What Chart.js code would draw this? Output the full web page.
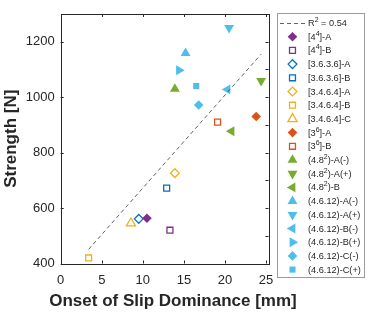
<!DOCTYPE html>
<html>
<head>
<meta charset="utf-8">
<script src="https://cdn.jsdelivr.net/npm/chart.js@4/dist/chart.umd.min.js"></script>
<style>
  html, body { margin: 0; padding: 0; background: #fff; }
  #wrap { width: 374px; height: 312px; position: relative; }
</style>
</head>
<body>
<div id="wrap"><canvas id="slipChart" width="374" height="312"></canvas></div>
<script>
// series labels, one point per series
const seriesLabels = [
    '[4\u2074]-A', '[4\u2074]-B',
    '[3.6.3.6]-A', '[3.6.3.6]-B',
    '[3.4.6.4]-A', '[3.4.6.4]-B', '[3.4.6.4]-C',
    '[3\u2076]-A', '[3\u2076]-B',
    '(4.8\u00b2)-A(-)', '(4.8\u00b2)-A(+)', '(4.8\u00b2)-B',
    '(4.6.12)-A(-)', '(4.6.12)-A(+)', '(4.6.12)-B(-)', '(4.6.12)-B(+)',
    '(4.6.12)-C(-)', '(4.6.12)-C(+)'
];
const onsetMm = [10.5, 13.3, 9.5, 12.9, 13.9, 3.4, 8.55, 23.8, 19.1,
                 13.9, 24.4, 20.8, 15.2, 20.5, 20.3, 14.4, 16.8, 16.5];
const strengthN = [563, 520, 561, 672, 726, 420, 545, 930, 910,
                   1030, 1059, 877, 1159, 1250, 1028, 1097, 972, 1040];

// linear fit (dashed)
const trendLabel = 'R\u00b2 = 0.54';
const trendX = [3.4, 24.4];
const trendY = [451, 1155];

const xTickStep = 5;
const yTickStep = 200;
const xTitle = 'Onset of Slip Dominance [mm]';
const yTitle = 'Strength [N]';

// marker styles (matlab default colours)
const PURPLE = '#7E2F8E', BLUE = '#0072BD', YELLOW = '#EDB120',
      RED = '#D95319', GREEN = '#77AC30', CYAN = '#4DBEEE';
const markerStyles = [
    { color: PURPLE, shape: 'rectRot', rot: 0, filled: true, r: 4.8 },
    { color: PURPLE, shape: 'rect', rot: 0, filled: false, r: 4.2 },
    { color: BLUE, shape: 'rectRot', rot: 0, filled: false, r: 4.4 },
    { color: BLUE, shape: 'rect', rot: 0, filled: false, r: 4.2 },
    { color: YELLOW, shape: 'rectRot', rot: 0, filled: false, r: 4.4 },
    { color: YELLOW, shape: 'rect', rot: 0, filled: false, r: 4.2 },
    { color: YELLOW, shape: 'triangle', rot: 0, filled: false, r: 5.3 },
    { color: RED, shape: 'rectRot', rot: 0, filled: true, r: 4.8 },
    { color: RED, shape: 'rect', rot: 0, filled: false, r: 4.2 },
    { color: GREEN, shape: 'triangle', rot: 0, filled: true, r: 5.7 },
    { color: GREEN, shape: 'triangle', rot: 180, filled: true, r: 5.7 },
    { color: GREEN, shape: 'triangle', rot: 270, filled: true, r: 5.7 },
    { color: CYAN, shape: 'triangle', rot: 0, filled: true, r: 5.7 },
    { color: CYAN, shape: 'triangle', rot: 180, filled: true, r: 5.7 },
    { color: CYAN, shape: 'triangle', rot: 270, filled: true, r: 5.7 },
    { color: CYAN, shape: 'triangle', rot: 90, filled: true, r: 5.7 },
    { color: CYAN, shape: 'rectRot', rot: 0, filled: true, r: 4.8 },
    { color: CYAN, shape: 'rect', rot: 0, filled: true, r: 4.3 }
];

const AXIS_COLOR = '#262626';
const FONT = 'Arial, "Liberation Sans", Helvetica, sans-serif';

const datasets = [{
    label: trendLabel,
    data: trendX.map((x, i) => ({ x: x, y: trendY[i] })),
    showLine: true,
    borderColor: '#505050',
    borderWidth: 0.9,
    borderDash: [4, 3],
    pointRadius: 0,
    fill: false
}];
seriesLabels.forEach((lbl, i) => {
    const s = markerStyles[i];
    datasets.push({
        label: lbl,
        data: [{ x: onsetMm[i], y: strengthN[i] }],
        pointStyle: s.shape,
        rotation: s.rot,
        pointRadius: s.r,
        borderColor: s.color,
        backgroundColor: s.filled ? s.color : 'rgba(0,0,0,0)',
        borderWidth: s.filled ? 0 : 1.3
    });
});

// box around the axes with inward ticks on all four sides
const frameTicks = {
    id: 'frameTicks',
    afterDatasetsDraw(chart) {
        const { ctx, chartArea: a, scales } = chart;
        const xs = scales.x, ys = scales.y;
        const len = 3;
        ctx.save();
        ctx.strokeStyle = AXIS_COLOR;
        ctx.lineWidth = 1;
        ctx.strokeRect(Math.round(a.left) + 0.5, Math.round(a.top) + 0.5,
            Math.round(a.right - a.left), Math.round(a.bottom - a.top));
        ctx.beginPath();
        for (let v = xs.min; v <= xs.max + 1e-9; v += xTickStep) {
            const px = Math.round(xs.getPixelForValue(v)) + 0.5;
            ctx.moveTo(px, a.bottom); ctx.lineTo(px, a.bottom - len);
            ctx.moveTo(px, a.top); ctx.lineTo(px, a.top + len);
        }
        for (let v = ys.min; v <= ys.max + 1e-9; v += yTickStep) {
            const py = Math.round(ys.getPixelForValue(v)) + 0.5;
            ctx.moveTo(a.left, py); ctx.lineTo(a.left + len, py);
        }
        for (let v = ys.min; v <= ys.max + 1e-9; v += yTickStep / 2) {
            const py = Math.round(ys.getPixelForValue(v)) + 0.5;
            ctx.moveTo(a.right, py); ctx.lineTo(a.right - len, py);
        }
        ctx.stroke();

        // x title drawn here, chart.js squeezes it to the axis width
        ctx.fillStyle = AXIS_COLOR;
        ctx.font = 'bold 17px ' + FONT;
        ctx.textAlign = 'center';
        ctx.textBaseline = 'middle';
        ctx.fillText(xTitle, 173, 301);
        ctx.restore();
    }
};

// unicode superscripts get drawn as small raised digits
const SUP = { '\u00b2': '2', '\u2074': '4', '\u2076': '6' };
function drawSupText(ctx, text, x, y) {
    let cx = x;
    for (const ch of text) {
        if (SUP[ch]) {
            ctx.font = '7px ' + FONT;
            ctx.fillText(SUP[ch], cx, y - 3.5);
            cx += ctx.measureText(SUP[ch]).width;
        } else {
            ctx.font = '9.2px ' + FONT;
            ctx.fillText(ch, cx, y);
            cx += ctx.measureText(ch).width;
        }
    }
}

// matlab-ish legend box on the right
const boxLegend = {
    id: 'boxLegend',
    afterDraw(chart) {
        const ctx = chart.ctx;
        const left = 277, top = 13, w = 87, h = 264;
        const rowTop = 23, rowH = 13.7;
        const markX = 292.5, textX = 308;
        ctx.save();
        ctx.fillStyle = '#fff';
        ctx.fillRect(left, top, w, h);
        ctx.strokeStyle = '#9a9a9a';
        ctx.lineWidth = 1;
        ctx.strokeRect(left + 0.5, top + 0.5, w, h);
        ctx.textBaseline = 'middle';
        chart.data.datasets.forEach((ds, i) => {
            const y = rowTop + i * rowH;
            if (i === 0) {
                ctx.save();
                ctx.strokeStyle = ds.borderColor;
                ctx.lineWidth = ds.borderWidth;
                ctx.setLineDash(ds.borderDash);
                ctx.beginPath();
                ctx.moveTo(280, y + 0.5); ctx.lineTo(305, y + 0.5);
                ctx.stroke();
                ctx.restore();
            } else {
                ctx.fillStyle = ds.backgroundColor;
                ctx.strokeStyle = ds.borderColor;
                ctx.lineWidth = ds.borderWidth;
                Chart.helpers.drawPoint(ctx, {
                    pointStyle: ds.pointStyle,
                    rotation: ds.rotation,
                    radius: ds.pointRadius,
                    borderWidth: ds.borderWidth
                }, markX, y);
            }
            ctx.fillStyle = AXIS_COLOR;
            drawSupText(ctx, ds.label, textX, y + 0.5);
        });
        ctx.restore();
    }
};

new Chart(document.getElementById('slipChart').getContext('2d'), {
    type: 'scatter',
    data: { datasets: datasets },
    options: {
        responsive: false,
        animation: false,
        devicePixelRatio: 1,
        layout: { padding: { left: 0, right: 105.5, top: 14, bottom: 0 } },
        scales: {
            x: {
                type: 'linear',
                min: 0,
                max: 25.3,
                afterFit: (scale) => { scale.height = 48.5; },
                grid: { display: false, drawTicks: false },
                border: { display: false },
                ticks: {
                    stepSize: xTickStep,
                    includeBounds: false,
                    padding: 9,
                    maxRotation: 0,
                    color: AXIS_COLOR,
                    font: { family: FONT, size: 13 },
                    callback: (v) => String(v)
                },
                title: { display: false }
            },
            y: {
                type: 'linear',
                min: 400,
                max: 1300,
                afterFit: (scale) => { scale.width = 60.7; },
                grid: { display: false, drawTicks: false },
                border: { display: false },
                ticks: {
                    stepSize: yTickStep,
                    includeBounds: false,
                    padding: 6,
                    color: AXIS_COLOR,
                    font: { family: FONT, size: 13 },
                    callback: (v) => String(v)
                },
                title: {
                    display: true,
                    text: yTitle,
                    color: AXIS_COLOR,
                    font: { family: FONT, size: 17, weight: 'bold' },
                    padding: { top: 1, bottom: 0 }
                }
            }
        },
        plugins: {
            legend: { display: false },
            tooltip: { enabled: false }
        }
    },
    plugins: [frameTicks, boxLegend]
});
</script>
</body>
</html>
